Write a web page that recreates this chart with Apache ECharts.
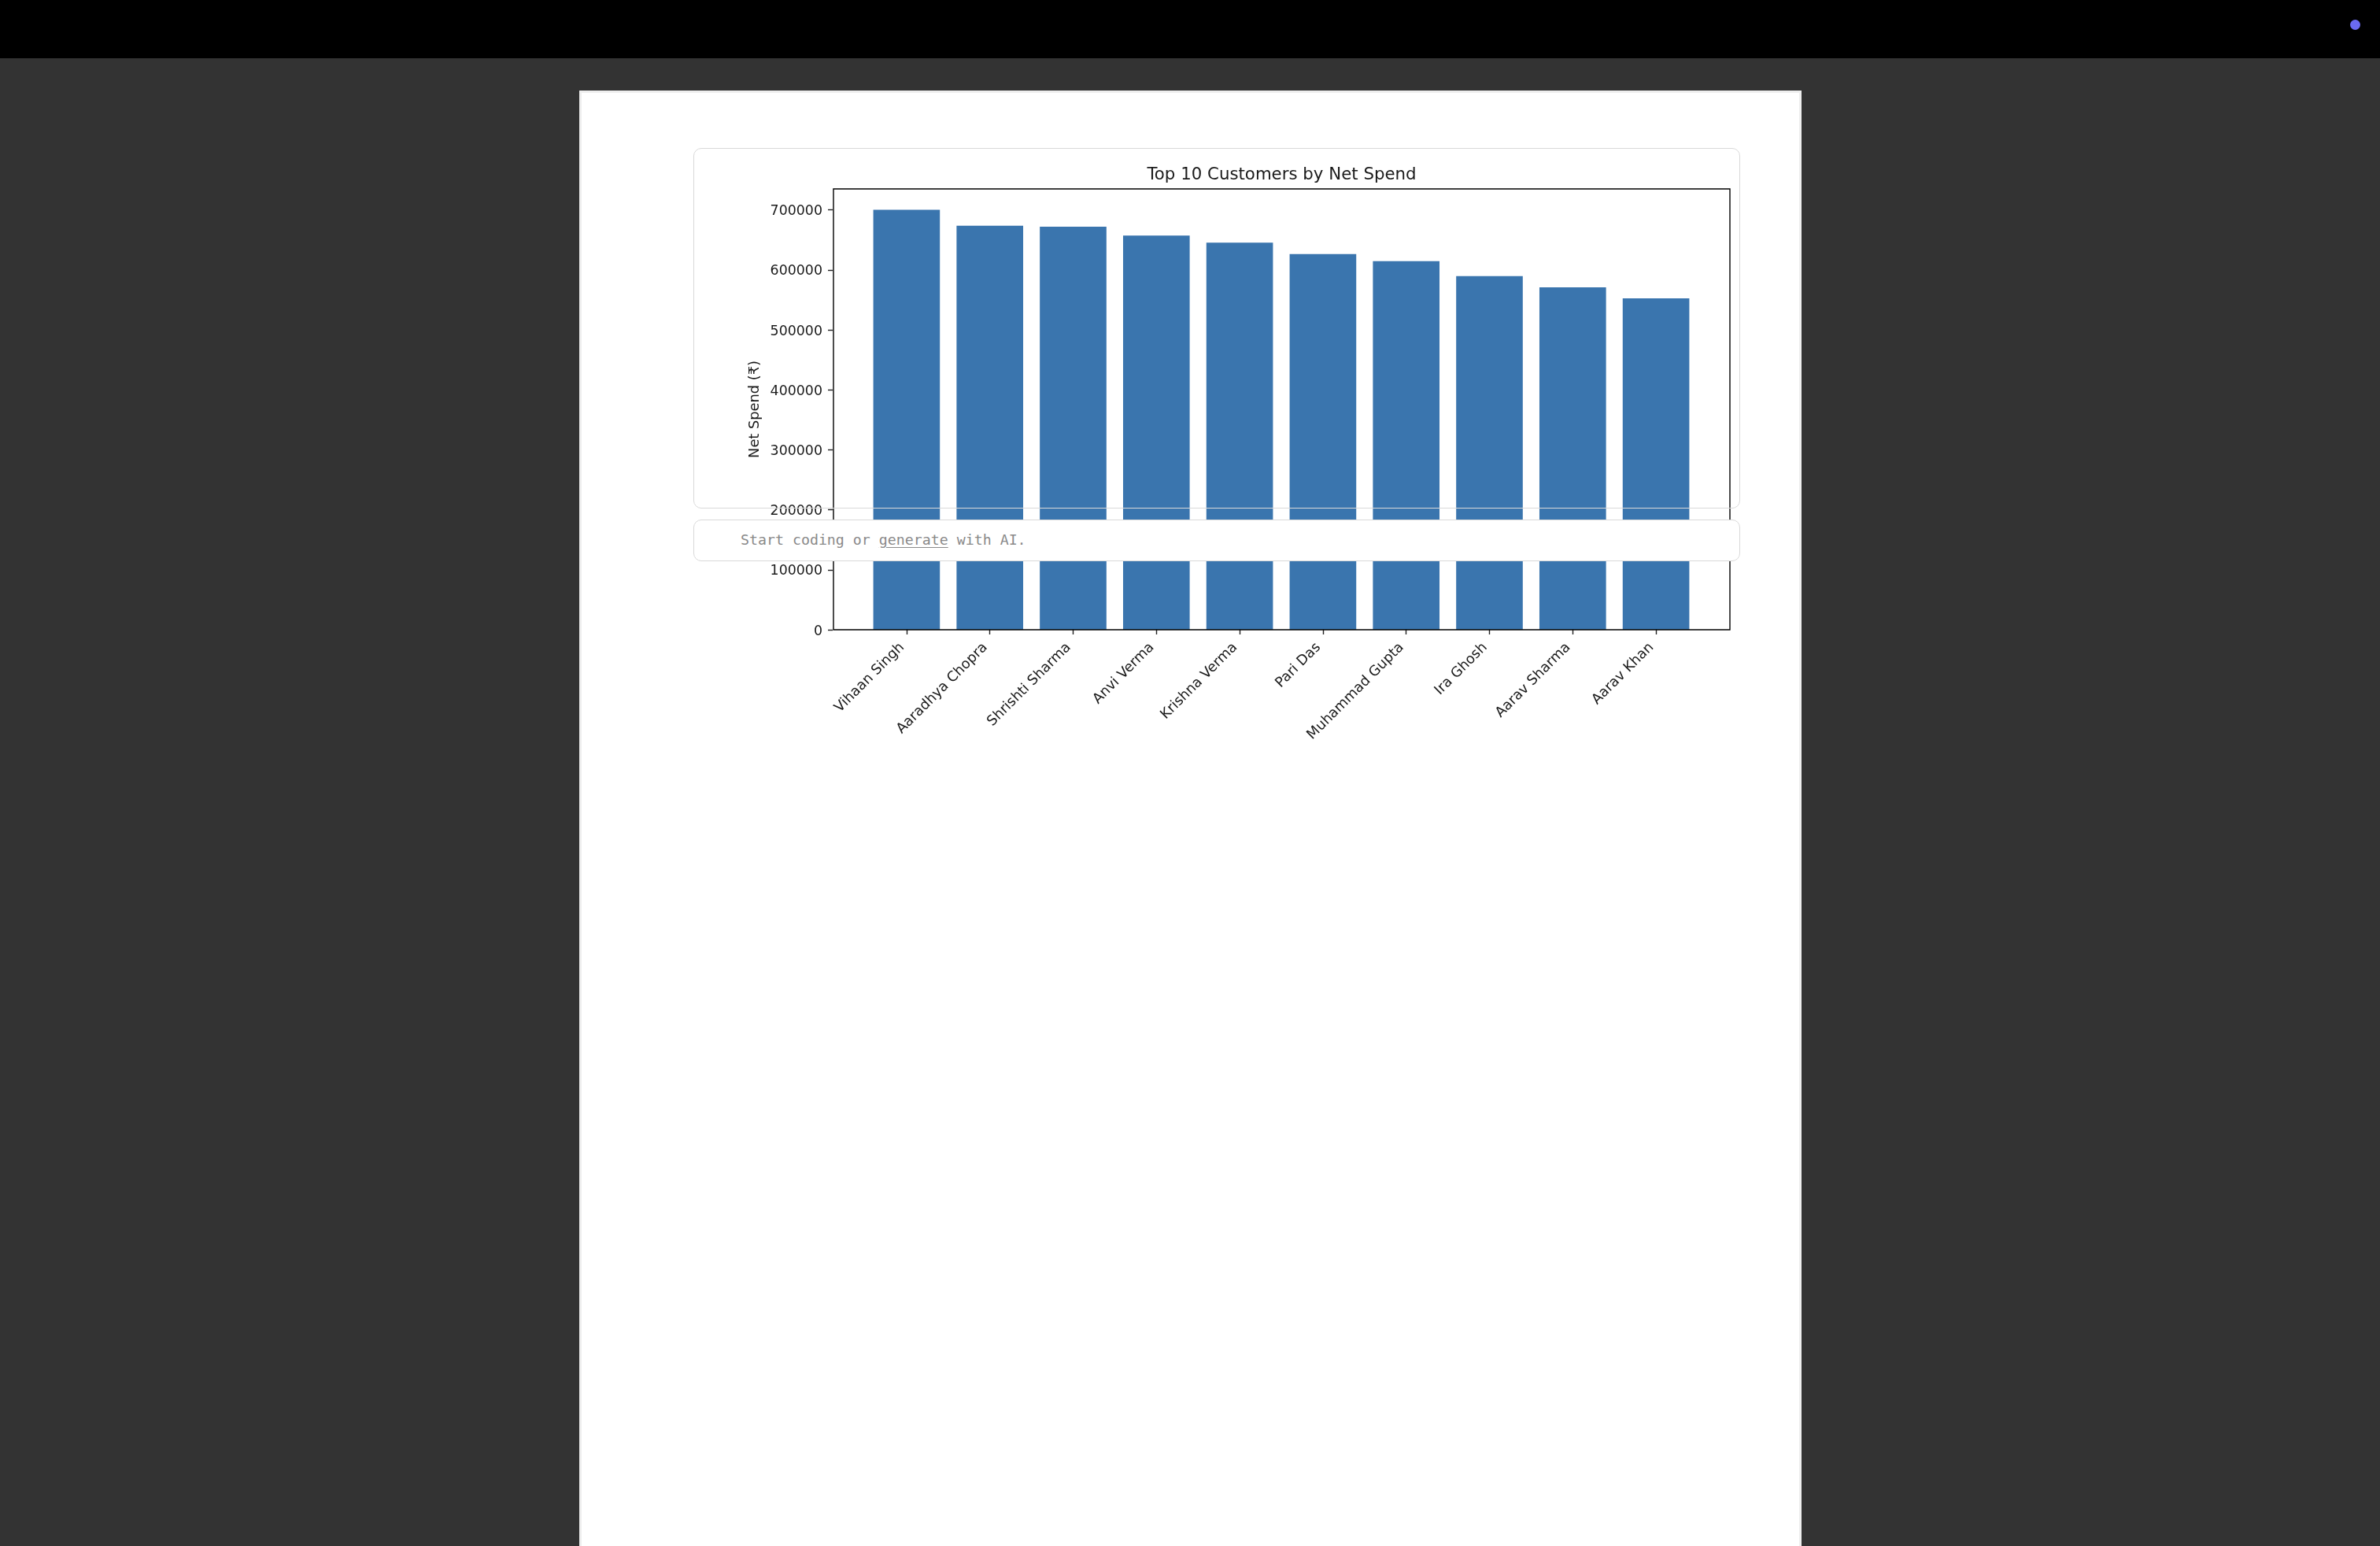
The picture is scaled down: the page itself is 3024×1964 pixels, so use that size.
<!DOCTYPE html>
<html>
<head>
<meta charset="utf-8">
<title>Top 10 Customers by Net Spend</title>
<script src="https://cdn.jsdelivr.net/npm/echarts@6/dist/echarts.min.js"></script>
<style>
html,body{margin:0;padding:0;width:3024px;height:1964px;overflow:hidden;background:#333333;}
#topbar{position:absolute;left:0;top:0;width:3024px;height:74px;background:#000;}
#dot{position:absolute;left:2986px;top:25px;width:13px;height:13px;border-radius:50%;background:#6a6af0;}
#page{position:absolute;left:736px;top:115px;width:1547px;height:1849px;background:#fff;border:3px solid #eeeeee;border-bottom:none;}
#chart{position:absolute;left:736px;top:115px;width:1553px;height:900px;}
.cell{position:absolute;left:881px;width:1328px;border:1.5px solid #d9d9d9;border-radius:10px;box-sizing:content-box;}
#cell1{top:188px;height:456px;background:transparent;}
#cell2{top:660px;height:51px;background:#fff;}
#hint{position:absolute;left:941px;top:675px;font:18.25px/22px "DejaVu Sans Mono",monospace;color:#8a8a8a;white-space:pre;}
#hint u{text-underline-offset:3px;}
</style>
</head>
<body>
<div id="topbar"></div><div id="dot"></div>
<div id="page"></div>
<div id="chart"></div>
<div id="cell1" class="cell"></div>
<div id="cell2" class="cell"></div>
<div id="hint">Start coding or <u>generate</u> with AI.</div>
<script>
const customers = ['Vihaan Singh','Aaradhya Chopra','Shrishti Sharma','Anvi Verma','Krishna Verma','Pari Das','Muhammad Gupta','Ira Ghosh','Aarav Sharma','Aarav Khan'];
const netSpend = [700300,673600,671900,657300,645300,626400,614600,589600,570900,552500];
const chartTitle = 'Top 10 Customers by Net Spend';
const yAxisName = 'Net Spend (₹)';
const yMax = 735000;
const yStep = 100000;

const ox = 736, oy = 115;
const font = '"DejaVu Sans"';
const ink = '#1a1a1a';
const chart = echarts.init(document.getElementById('chart'), null, {renderer:'canvas'});
chart.setOption({
  animation:false,
  backgroundColor:'transparent',
  title:{text:chartTitle,left:1623.5-ox,top:207-oy,textAlign:'center',
    textStyle:{fontFamily:font,fontSize:21.3,fontWeight:'normal',color:ink}},
  grid:{left:1099-ox,top:240-oy,width:1058,height:560,containLabel:false},
  xAxis:{type:'category',data:customers,
    axisLine:{show:false},
    axisTick:{show:true,alignWithLabel:true,length:6,lineStyle:{color:'#222',width:1.4}},
    axisLabel:{interval:0,rotate:45,margin:14,padding:[0,8,0,0],fontFamily:font,fontSize:17.8,color:ink,hideOverlap:false}},
  yAxis:{type:'value',min:0,max:yMax,interval:yStep,offset:41,
    name:yAxisName,nameLocation:'middle',nameGap:90,nameMoveOverlap:false,
    nameTextStyle:{fontFamily:font,fontSize:17.8,color:ink},
    splitLine:{show:false},
    axisLine:{show:false},
    axisTick:{show:true,length:6,lineStyle:{color:'#222',width:1.4}},
    axisLabel:{margin:13,fontFamily:font,fontSize:17.4,color:ink,showMaxLabel:false,
      formatter:v=>'{t|'+v+'}',
      rich:{t:{fontFamily:font,fontSize:17.4,color:ink,padding:[4,0,0,0]}}}},
  series:[{type:'bar',data:netSpend,barWidth:'80%',itemStyle:{color:'#3a75ae'}}],
  graphic:[{type:'rect',silent:true,z:50,
    shape:{x:1059-ox,y:240-oy,width:1139,height:560},
    style:{fill:'none',stroke:'#000',lineWidth:1.4}}]
});
</script>
</body>
</html>
